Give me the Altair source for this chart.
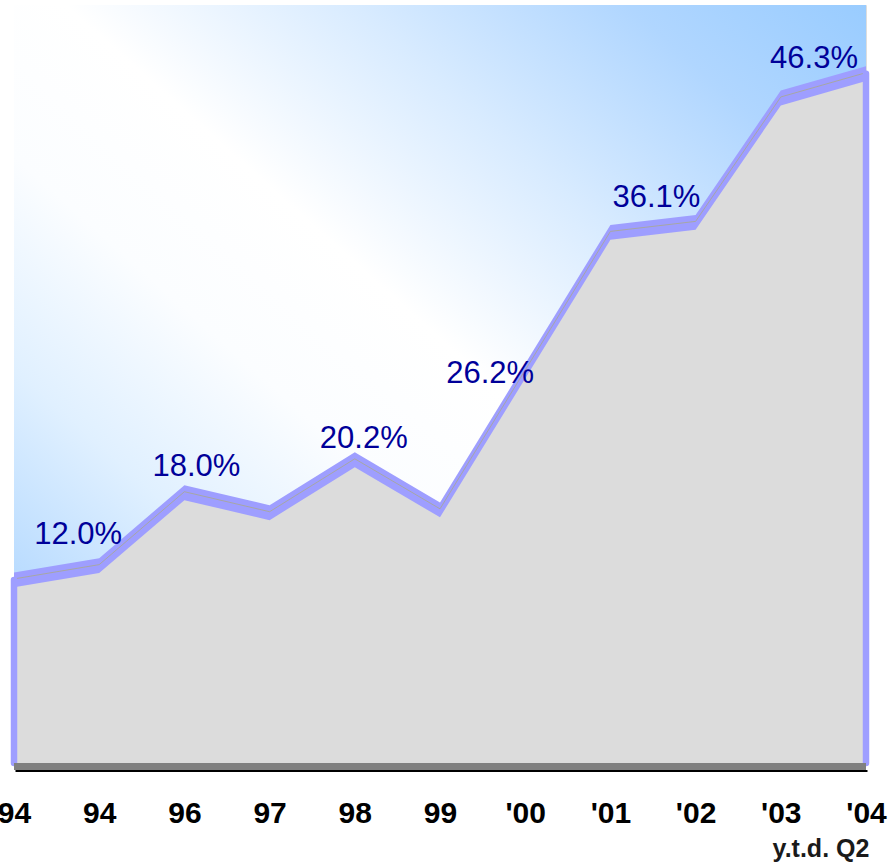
import json
import altair as alt
import pandas as pd

# ---- data ----
TICK_LABELS = ["94", "94", "96", "97", "98", "99", "'00", "'01", "'02", "'03", "'04"]
VALUES = [11.5, 12.5, 17.6, 16.2, 19.9, 16.4, 26.1, 35.8, 36.5, 45.2, 46.9]
LABEL_INDEX = [1, 2, 4, 6, 7, 10]
LABEL_TEXTS = ["12.0%", "18.0%", "20.2%", "26.2%", "36.1%", "46.3%"]
NOTE_TEXT = "y.t.d. Q2"

# ---- style ----
W, H = 852, 758
Y_MIN, Y_MAX = -1.3, 51.7
HALF = 0.52
LABEL_DX = [-21, 12, 9, -35, 46, -52]
LABEL_DY = [-22, -17, -12, 12, -25, -6]
FONT = "Liberation Sans"

df = pd.DataFrame({"i": list(range(len(VALUES))), "v": VALUES})
edges = df.iloc[[0, len(VALUES) - 1]]
one = pd.DataFrame({"k": [0]})

label_expr = json.dumps(TICK_LABELS) + "[datum.value]"

x = alt.X(
    "i:O",
    scale=alt.Scale(type="point", padding=0),
    axis=alt.Axis(
        title=None, domain=False, ticks=False, tickSize=0, grid=False,
        labelPadding=59, labelBaseline="alphabetic", labelAngle=0,
        labelFontSize=30, labelFontWeight="bold", labelColor="black",
        labelFont=FONT, labelExpr=label_expr, labelOverlap=False,
    ),
)
yscale = alt.Scale(domain=[Y_MIN, Y_MAX], nice=False, zero=False)
y = alt.Y("v:Q", scale=yscale, axis=None)

grad = alt.LinearGradient(
    gradient="linear", x1=0, y1=1, x2=1, y2=0,
    stops=[
        alt.GradientStop(color="#9fcfff", offset=0),
        alt.GradientStop(color="#b8dbff", offset=0.12),
        alt.GradientStop(color="#e0f0ff", offset=0.26),
        alt.GradientStop(color="#fbfdff", offset=0.4),
        alt.GradientStop(color="#ffffff", offset=0.53),
        alt.GradientStop(color="#d8ebff", offset=0.7),
        alt.GradientStop(color="#b0d6ff", offset=0.86),
        alt.GradientStop(color="#99ccff", offset=1),
    ],
)

bg = alt.Chart(one).mark_rect(color=grad).encode(
    x=alt.value(0), x2=alt.value(W), y=alt.value(0), y2=alt.value(H)
)

fill = alt.Chart(df).mark_area(color="#dcdcdc", opacity=1).encode(
    x=x, y=y, y2=alt.datum(Y_MIN)
)

band = alt.Chart(df).transform_calculate(
    hi=f"datum.v + {HALF}", lo=f"datum.v - {HALF}"
).mark_area(color="#9e9eff", opacity=1).encode(
    x=x,
    y=alt.Y("hi:Q", scale=yscale, axis=None),
    y2="lo:Q",
)

thin = alt.Chart(df).mark_line(color="#a8a894", strokeWidth=1, opacity=0.85, yOffset=-1).encode(x=x, y=y)

sides = alt.Chart(edges).mark_rule(color="#9e9eff", strokeWidth=6.5, strokeCap="round").encode(
    x=x, y=y, y2=alt.datum(Y_MIN)
)

floor = alt.Chart(one).mark_rule(color="#808080", strokeWidth=7).encode(
    x=alt.value(0), x2=alt.value(W), y=alt.value(H + 3.5)
)
shadow = alt.Chart(one).mark_rule(color="#000000", strokeWidth=2).encode(
    x=alt.value(1.5), x2=alt.value(W + 1.5), y=alt.value(H + 8)
)

layers = [bg, fill, band, thin, sides, floor, shadow]

for idx, txt, dx, dy in zip(LABEL_INDEX, LABEL_TEXTS, LABEL_DX, LABEL_DY):
    d = pd.DataFrame({"i": [idx], "v": [VALUES[idx]], "t": [txt]})
    layers.append(
        alt.Chart(d).mark_text(
            dx=dx, dy=dy, align="center", baseline="alphabetic",
            fontSize=31, font=FONT, color="#000099",
        ).encode(x=x, y=y, text="t:N")
    )

note = pd.DataFrame({"i": [len(VALUES) - 1], "t": [NOTE_TEXT]})
layers.append(
    alt.Chart(note).mark_text(
        dx=-45, align="center", baseline="alphabetic",
        fontSize=25, fontWeight="bold", font=FONT, color="#1a1a1a",
    ).encode(x=x, y=alt.value(H + 94), text="t:N")
)

chart = alt.layer(*layers).properties(
    width=W, height=H,
    padding={"left": 14, "top": 5, "right": 25, "bottom": 101},
    autosize=alt.AutoSizeParams(type="none"),
).configure_view(stroke="#d9d9d9", strokeWidth=4).configure(background="white")

chart.save("out.html", embed_options={"renderer": "svg", "actions": False})
